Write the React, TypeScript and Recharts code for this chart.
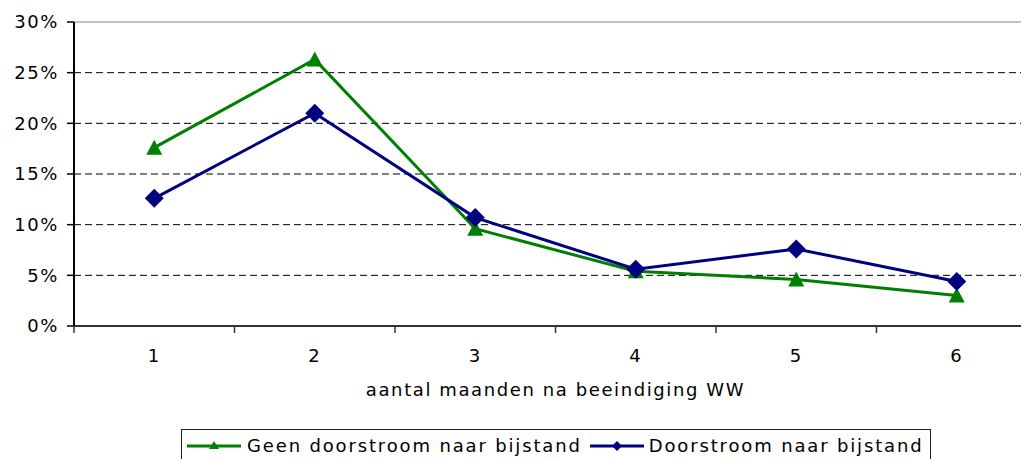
import React from 'react';
import { LineChart, Line, XAxis, YAxis, CartesianGrid, ReferenceLine, Legend, Label } from 'recharts';

const months = [1, 2, 3, 4, 5, 6];
const geenDoorstroom = [17.6, 26.3, 9.6, 5.4, 4.6, 3.0];
const doorstroom = [12.6, 21.0, 10.7, 5.6, 7.6, 4.4];
const yTicks = [0, 5, 10, 15, 20, 25, 30];
const xTicks = [0.5, 1, 1.5, 2, 2.5, 3, 3.5, 4, 4.5, 5, 5.5, 6, 6.5];
const gridValues = [5, 10, 15, 20, 25];
const seriesNames = ['Geen doorstroom naar bijstand', 'Doorstroom naar bijstand'];
const xLabel = 'aantal maanden na beeindiging WW';

const GREEN = '#008000';
const NAVY = '#000080';
const FONT = '"DejaVu Sans", Verdana, sans-serif';
const FS = 18;
const LS = 1.6;

const data = months.map((m, i) => ({ month: m, geen: geenDoorstroom[i], door: doorstroom[i] }));

const Triangle = (props: any) => {
  const { cx, cy } = props;
  if (cx == null || cy == null) return null;
  return <polygon points={`${cx},${cy - 8} ${cx - 8},${cy + 7} ${cx + 8},${cy + 7}`} fill={GREEN} />;
};

const Diamond = (props: any) => {
  const { cx, cy } = props;
  if (cx == null || cy == null) return null;
  const r = 9.5;
  return <polygon points={`${cx},${cy - r} ${cx + r},${cy} ${cx},${cy + r} ${cx - r},${cy}`} fill={NAVY} />;
};

const XTick = (props: any) => {
  const { x, y, payload } = props;
  const v = payload.value;
  if (Number.isInteger(v)) {
    return (
      <text x={x} y={y + 36} textAnchor="middle" fill="#000" fontSize={FS} fontFamily={FONT} letterSpacing={LS}>
        {v}
      </text>
    );
  }
  return <line x1={x} x2={x} y1={y} y2={y + 7} stroke="#333" strokeWidth={1.5} />;
};

const LegendContent = () => (
  <div
    style={{
      border: '1.5px solid #222',
      height: 34,
      boxSizing: 'border-box',
      display: 'flex',
      alignItems: 'flex-start',
      paddingLeft: 5,
      paddingTop: 6,
      fontFamily: FONT,
      fontSize: FS,
      letterSpacing: 1.85,
      color: '#000',
      whiteSpace: 'nowrap',
      lineHeight: '20px',
    }}
  >
    <svg width={54} height={20} style={{ marginRight: 6, flex: 'none' }}>
      <line x1={0} x2={54} y1={10} y2={10} stroke={GREEN} strokeWidth={3} />
      <polygon points="27,5 22,13 32,13" fill={GREEN} />
    </svg>
    <span style={{ marginRight: 8 }}>{seriesNames[0]}</span>
    <svg width={54} height={20} style={{ marginRight: 5, flex: 'none' }}>
      <line x1={0} x2={54} y1={10} y2={10} stroke={NAVY} strokeWidth={3} />
      <polygon points="27,5 32,10 27,15 22,10" fill={NAVY} />
    </svg>
    <span>{seriesNames[1]}</span>
  </div>
);

export default function App() {
  return (
    <div style={{ width: 1021, height: 451, overflow: 'hidden', position: 'relative' }}>
      <LineChart width={1035} height={451} data={data} margin={{ top: 14, right: 6, left: 0, bottom: 53 }}>
        <CartesianGrid horizontal vertical={false} horizontalValues={gridValues} stroke="#000" strokeDasharray="7 4" />
        <ReferenceLine y={30} stroke="#c0c0c0" strokeWidth={2} />
        <XAxis
          dataKey="month"
          type="number"
          domain={[0.5, 6.5]}
          ticks={xTicks}
          interval={0}
          tick={<XTick />}
          tickLine={false}
          tickSize={0}
          tickMargin={0}
          height={80}
          axisLine={{ stroke: '#333', strokeWidth: 2 }}
        >
          <Label
            value={xLabel}
            position="insideBottom"
            offset={10}
            style={{ fontSize: FS, fontFamily: FONT, letterSpacing: LS, fill: '#000' }}
          />
        </XAxis>
        <YAxis
          width={66}
          domain={[0, 30]}
          ticks={yTicks}
          interval={0}
          tickFormatter={(v: number) => `${v}%`}
          tick={{ fill: '#000', fontSize: FS, fontFamily: FONT, letterSpacing: LS }}
          tickSize={7}
          tickMargin={8}
          tickLine={{ stroke: '#000', strokeWidth: 1.5 }}
          axisLine={{ stroke: '#000', strokeWidth: 2 }}
        />
        <Line
          type="linear"
          dataKey="geen"
          name={seriesNames[0]}
          stroke={GREEN}
          strokeWidth={3}
          dot={<Triangle />}
          activeDot={false}
          isAnimationActive={false}
        />
        <Line
          type="linear"
          dataKey="door"
          name={seriesNames[1]}
          stroke={NAVY}
          strokeWidth={3}
          dot={<Diamond />}
          activeDot={false}
          isAnimationActive={false}
        />
        <Legend
          layout="horizontal"
          verticalAlign="middle"
          align="center"
          content={<LegendContent />}
          wrapperStyle={{ position: 'absolute', left: 173, top: 421, width: 750, height: 40 }}
        />
      </LineChart>
    </div>
  );
}
